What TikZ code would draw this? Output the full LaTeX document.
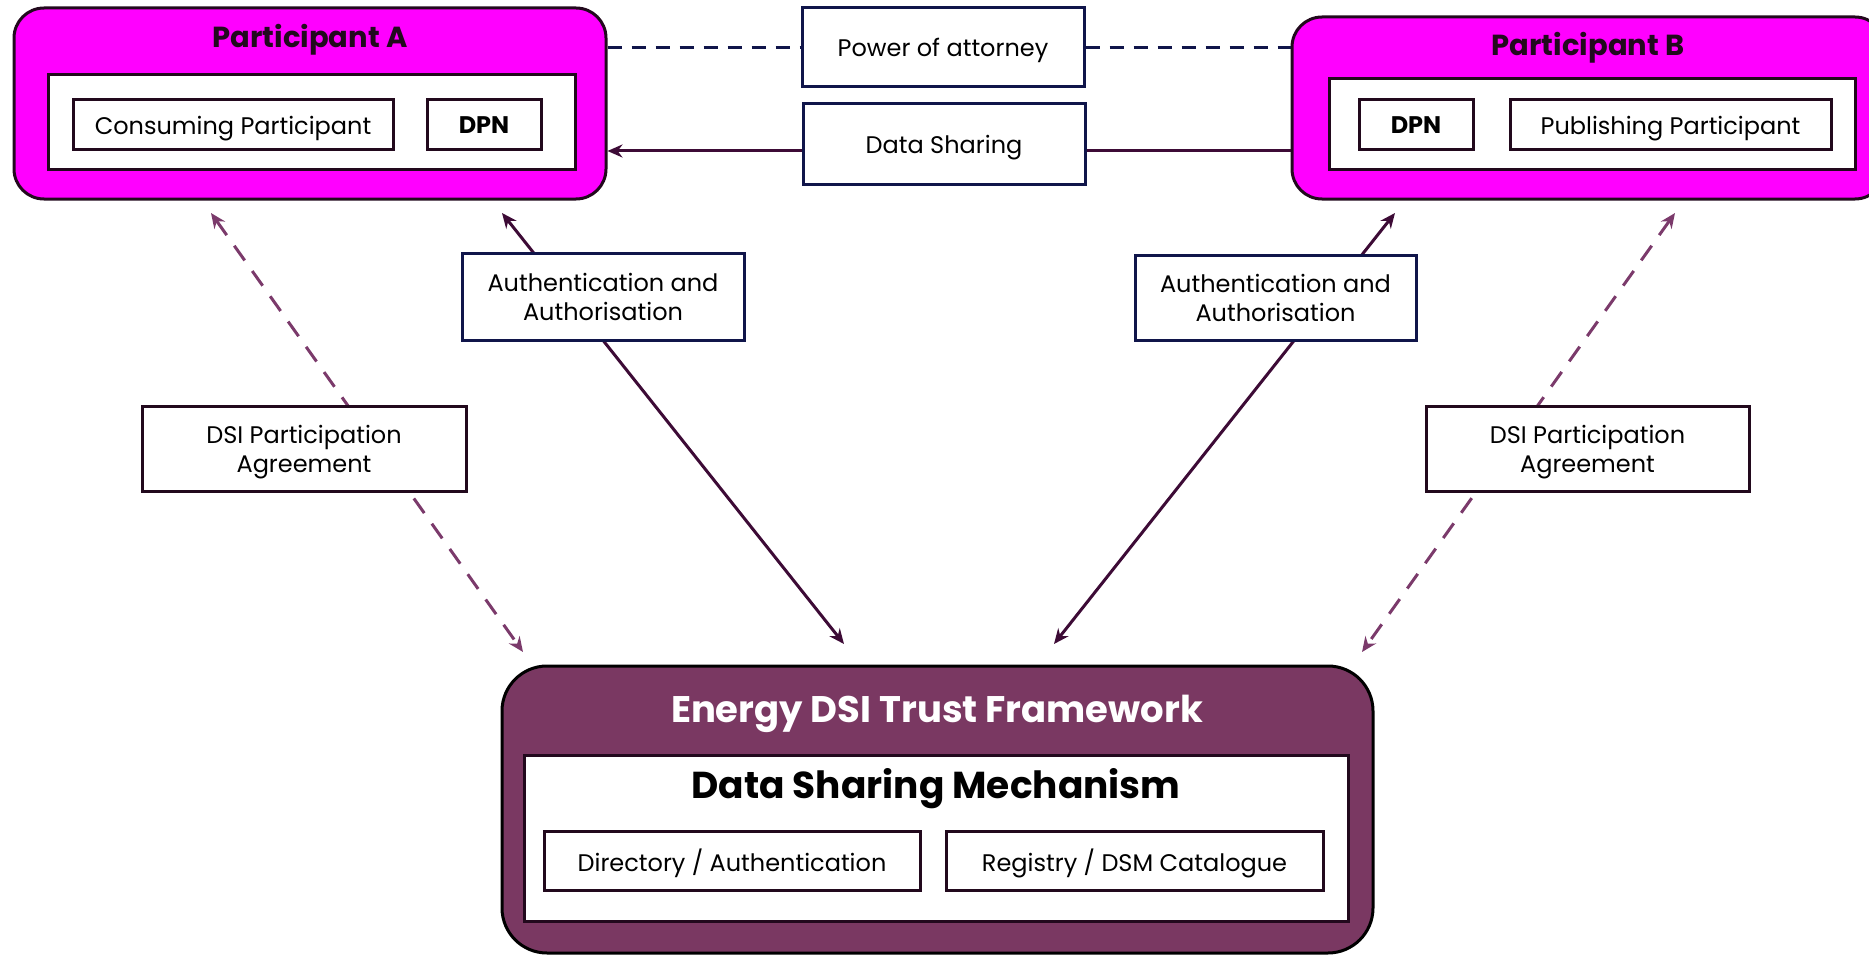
\documentclass[tikz,border=0pt]{standalone}
\usepackage{fontspec}
\setmainfont{Poppins}
\usepackage{xcolor}
\usepackage{tikz}
\usetikzlibrary{arrows.meta,backgrounds}

\definecolor{partmag}{HTML}{FF00FF}
\definecolor{tfplum}{HTML}{7A3862}
\definecolor{navyline}{HTML}{10154A}
\definecolor{darkline}{HTML}{22091D}
\definecolor{arrowplum}{HTML}{3D0B36}
\definecolor{dashplum}{HTML}{7B3A6B}

\tikzset{
  partbox/.style={draw=darkline, line width=3pt, fill=partmag, rounded corners=30pt},
  innerbox/.style={draw=darkline, line width=3pt, fill=white},
  itembox/.style={draw=darkline, line width=3pt, fill=white, text depth=0pt, font=\fontsize{24}{28}\selectfont},
  linkbox/.style={draw=navyline, line width=3pt, fill=white, align=center, text depth=0pt, font=\fontsize{24}{29}\selectfont},
  agreebox/.style={draw=darkline, line width=3pt, fill=white, align=center, text depth=0pt, font=\fontsize{24}{29}\selectfont},
  accessline/.style={arrowplum, line width=3pt, {Stealth[length=15pt,width=13pt]}-{Stealth[length=15pt,width=13pt]}},
  agreeline/.style={dashplum, line width=3pt, dash pattern=on 18pt off 13pt, {Stealth[length=15pt,width=13pt]}-{Stealth[length=15pt,width=13pt]}}
}

\begin{document}
\begin{tikzpicture}[x=1pt, y=-1pt]
  \useasboundingbox (0,0) rectangle (1869,955);

  % participants
  \node[partbox, minimum width=592pt, minimum height=191pt] (partA) at (310,103.5) {};
  \node[font=\fontsize{29}{34}\selectfont\bfseries, text=darkline] (titleA) at (310,40) {Participant A};
  \node[innerbox, minimum width=527pt, minimum height=95pt] (innerA) at (311.5,122.5) {};
  \node[itembox, minimum width=320pt, minimum height=50pt] (consA) at (233,125) {Consuming Participant};
  \node[itembox, minimum width=114pt, minimum height=50pt, font=\fontsize{24}{28}\selectfont\bfseries] (dpnA) at (484,125) {DPN};

  \node[partbox, minimum width=593pt, minimum height=182pt] (partB) at (1588.5,108) {};
  \node[font=\fontsize{29}{34}\selectfont\bfseries, text=darkline] (titleB) at (1588,48) {Participant B};
  \node[innerbox, minimum width=526pt, minimum height=91pt] (innerB) at (1592,124.5) {};
  \node[itembox, minimum width=114pt, minimum height=50pt, font=\fontsize{24}{28}\selectfont\bfseries] (dpnB) at (1416,125) {DPN};
  \node[itembox, minimum width=321pt, minimum height=50pt] (pubB) at (1670.5,125) {Publishing Participant};

  % links between participants
  \node[linkbox, minimum width=282pt, minimum height=79pt] (poa) at (943,47.5) {Power of attorney};
  \node[linkbox, minimum width=282pt, minimum height=80pt] (share) at (944,144) {Data Sharing};

  \draw[navyline, line width=3pt, dash pattern=on 14pt off 10pt] (partA.east |- poa.west) -- (poa.west);
  \draw[navyline, line width=3pt, dash pattern=on 14pt off 10pt] (poa.east) -- (partB.west |- poa.east);
  \draw[arrowplum, line width=3pt] ([yshift=-7pt]share.east) -- ([yshift=-7pt]partB.west |- share.east);
  \draw[arrowplum, line width=3pt, -{Stealth[length=15pt,width=13pt]}] ([yshift=-7pt]share.west) -- ([yshift=-7pt]partA.east |- share.west);

  % trust framework
  \node[draw=black, line width=3pt, fill=tfplum, rounded corners=45pt, minimum width=871pt, minimum height=287pt] (frame) at (937.5,809.5) {};
  \node[font=\fontsize{37}{42}\selectfont\bfseries, text=white] (frametitle) at (937,714) {Energy DSI Trust Framework};
  \node[innerbox, minimum width=824pt, minimum height=166pt] (dsm) at (936,838) {};
  \node[font=\fontsize{37.5}{42}\selectfont\bfseries] (dsmtitle) at (936,789) {Data Sharing Mechanism};
  \node[itembox, minimum width=376pt, minimum height=59pt] (dir) at (732,860.5) {Directory / Authentication};
  \node[itembox, minimum width=377pt, minimum height=59pt] (reg) at (1134.5,860.5) {Registry / DSM Catalogue};

  % access and agreement links
  \node[linkbox, minimum width=282pt, minimum height=87pt] (authA) at (603,296.5) {Authentication and\\Authorisation};
  \node[linkbox, minimum width=281pt, minimum height=85pt] (authB) at (1275.5,297.5) {Authentication and\\Authorisation};
  \node[agreebox, minimum width=324pt, minimum height=85pt] (dsiA) at (304,448.5) {DSI Participation\\Agreement};
  \node[agreebox, minimum width=323pt, minimum height=85pt] (dsiB) at (1587.5,448.5) {DSI Participation\\Agreement};

  \coordinate (authAtop) at (502,213);
  \coordinate (authAbot) at (844,644);
  \coordinate (authBtop) at (1395,213);
  \coordinate (authBbot) at (1054,644);
  \coordinate (dsiAtop) at (211,213);
  \coordinate (dsiAbot) at (523,652);
  \coordinate (dsiBtop) at (1675,213);
  \coordinate (dsiBbot) at (1362,652);

  \begin{scope}[on background layer]
    \draw[accessline] (authAtop) -- (authAbot);
    \draw[accessline] (authBtop) -- (authBbot);
    \draw[agreeline] (dsiAtop) -- (dsiAbot);
    \draw[agreeline] (dsiBtop) -- (dsiBbot);
  \end{scope}
\end{tikzpicture}
\end{document}
